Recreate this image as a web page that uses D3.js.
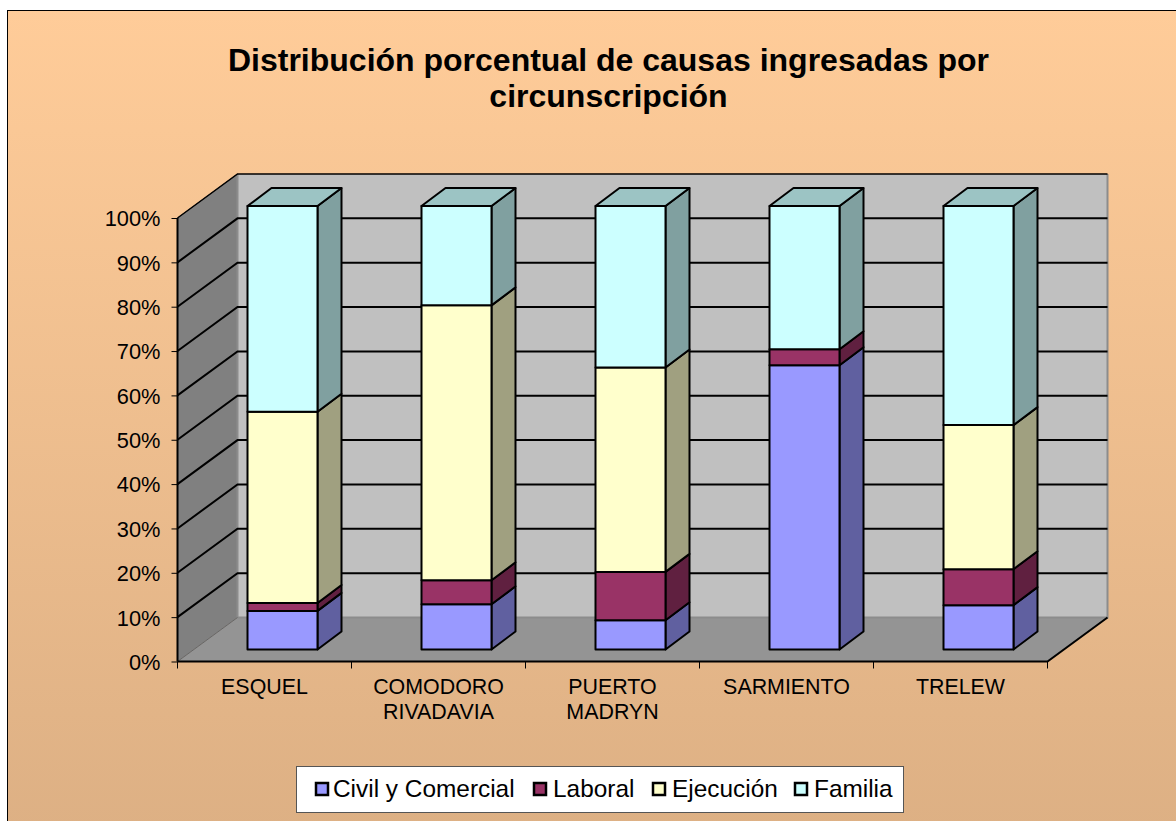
<!DOCTYPE html>
<html><head><meta charset="utf-8">
<script src="https://cdn.jsdelivr.net/npm/d3@7"></script>
<style>html,body{margin:0;padding:0;background:#fff}svg{display:block}text{font-family:"Liberation Sans",Arial,sans-serif;fill:#000}</style>
</head><body><div id="c"></div>
<script>
const categories=[["ESQUEL"],["COMODORO","RIVADAVIA"],["PUERTO","MADRYN"],["SARMIENTO"],["TRELEW"]];
const seriesNames=["Civil y Comercial","Laboral","Ejecución","Familia"];
const civil=[8.7,10.2,6.6,64.1,10.0];
const laboral=[1.8,5.4,10.9,3.6,8.1];
const ejecucion=[43.1,62.0,46.1,0,32.5];
const familia=[46.4,22.4,36.4,32.3,49.4];
const ticks=[0,10,20,30,40,50,60,70,80,90,100];
const colors=["#9999FF","#993366","#FFFFCC","#CCFFFF"];
const sides=["#6060A0","#602040","#A0A080","#80A0A0"];
const tops=["#7a7acc","#7a2952","#cccca3","#9CC4C4"];
const W=1176,H=821;
const svg=d3.select("#c").append("svg").attr("width",W).attr("height",H);
const defs=svg.append("defs");
const g=defs.append("linearGradient").attr("id","bg").attr("x1",0).attr("y1",0).attr("x2",0).attr("y2",1);
g.append("stop").attr("offset","0").attr("stop-color","#FFCC99");
g.append("stop").attr("offset","1").attr("stop-color","#DDB084");
svg.append("rect").attr("x",7.5).attr("y",10.5).attr("width",W).attr("height",H).attr("fill","url(#bg)").attr("stroke","#000").attr("stroke-width",1);
const title=svg.append("text").attr("text-anchor","middle").style("font-weight","bold").style("font-size","32px");
title.append("tspan").attr("x",608.5).attr("y",71).text("Distribución porcentual de causas ingresadas por");
title.append("tspan").attr("x",608.5).attr("y",107).text("circunscripción");
// plot geometry
const x=d3.scaleBand().domain(d3.range(5)).range([177.5,1047.5]);
const y=d3.scaleLinear().domain([0,100]).range([661.5,218]);
const dx=60,dy=-44;
const poly=a=>a.map(p=>p.join(",")).join(" ");
const L=x.range()[0],R=x.range()[1],Y0=y(0),Y1=y(100);
const walls=svg.append("g");
walls.append("polygon").attr("points",poly([[L,Y0],[L,Y1],[L+dx,Y1+dy],[L+dx,Y0+dy]])).attr("fill","#808080");
walls.append("polygon").attr("points",poly([[L+dx,Y1+dy],[R+dx,Y1+dy],[R+dx,Y0+dy],[L+dx,Y0+dy]])).attr("fill","#C0C0C0");
walls.append("polygon").attr("points",poly([[L,Y0],[R,Y0],[R+dx,Y0+dy],[L+dx,Y0+dy]])).attr("fill","#949494");
walls.append("path").attr("d",`M${L+dx},${Y1+dy}V${Y0+dy}H${R+dx}V${Y1+dy}`).attr("fill","none").attr("stroke","#8c8c8c").attr("stroke-width",2);
walls.append("path").attr("d",`M${L},${Y0}L${L+dx},${Y0+dy}M${L},${Y1}L${L+dx},${Y1+dy}`).attr("fill","none").attr("stroke","#666").attr("stroke-width",1);
const grid=svg.append("g").attr("stroke","#000").attr("stroke-width",2).attr("fill","none");
ticks.forEach(t=>{
  if(t>0){
    grid.append("path").attr("d",`M${L},${y(t)}L${L+dx},${y(t)+dy}H${R+dx}`).attr("stroke-width",t===100?1.5:2);
  }
});
// axes
const yAxis=d3.axisLeft(y).tickValues(ticks).tickSize(6).tickFormat(d=>d+"%");
const ya=svg.append("g").attr("transform",`translate(${L},0)`).call(yAxis);
ya.selectAll("path,line").attr("stroke","#000");
ya.select("path").attr("stroke-width",2).attr("d",`M0,${Y1}V${Y0}`);
ya.selectAll("text").style("font-size","21.8px").attr("x",-17).attr("dy","0.36em");
const xAxis=d3.axisBottom(x).tickSize(0).tickFormat("");
const xa=svg.append("g").attr("transform",`translate(0,${Y0})`).call(xAxis);
xa.select("path").attr("stroke","#000").attr("stroke-width",2).attr("d",`M${L},0H${R}L${R+dx},${dy}`);
d3.range(6).forEach(i=>{xa.append("line").attr("x1",L+i*x.step()).attr("x2",L+i*x.step()).attr("y1",0).attr("y2",7).attr("stroke","#000");});
categories.forEach((c,i)=>{
  const t=svg.append("text").attr("text-anchor","middle").style("font-size","21.4px");
  c.forEach((s,j)=>t.append("tspan").attr("x",x(i)+x.bandwidth()/2).attr("y",694+j*25).text(s));
});
// bars
const data=[civil,laboral,ejecucion,familia];
const stack=d3.stack().keys([0,1,2,3]).value((d,k)=>d[k])(d3.range(5).map(i=>data.map(s=>s[i])));
const bw=70,bx=70,bdy=-12,dbx=24,dby=-18;
const bars=svg.append("g").attr("stroke","#000").attr("stroke-width",2).attr("stroke-linejoin","round");
d3.range(5).forEach(i=>{
  const x0=x(i)+bx, x1=x0+bw;
  stack.forEach((s,k)=>{
    const a=y(s[i][0])+bdy,b=y(s[i][1])+bdy;
    if(b>=a) return;
    bars.append("polygon").attr("points",poly([[x1,a],[x1,b],[x1+dbx,b+dby],[x1+dbx,a+dby]])).attr("fill",sides[k]);
    bars.append("rect").attr("x",x0).attr("y",b).attr("width",bw).attr("height",a-b).attr("fill",colors[k]);
  });
  const b=y(100)+bdy;
  bars.append("polygon").attr("points",poly([[x0,b],[x1,b],[x1+dbx,b+dby],[x0+dbx,b+dby]])).attr("fill",tops[3]);
});
// legend
const lg=svg.append("g");
lg.append("rect").attr("x",296.5).attr("y",766.5).attr("width",607).attr("height",46).attr("fill","#fff").attr("stroke","#555").attr("stroke-width",1);
const lx=[316,534,653,795];
const ltx=[333,553,672,814];
seriesNames.forEach((n,i)=>{
  lg.append("rect").attr("x",lx[i]).attr("y",783).attr("width",12).attr("height",12).attr("fill",colors[i]).attr("stroke","#000").attr("stroke-width",2.5);
  lg.append("text").attr("x",ltx[i]).attr("y",797).style("font-size","24.4px").text(n);
});
</script></body></html>
